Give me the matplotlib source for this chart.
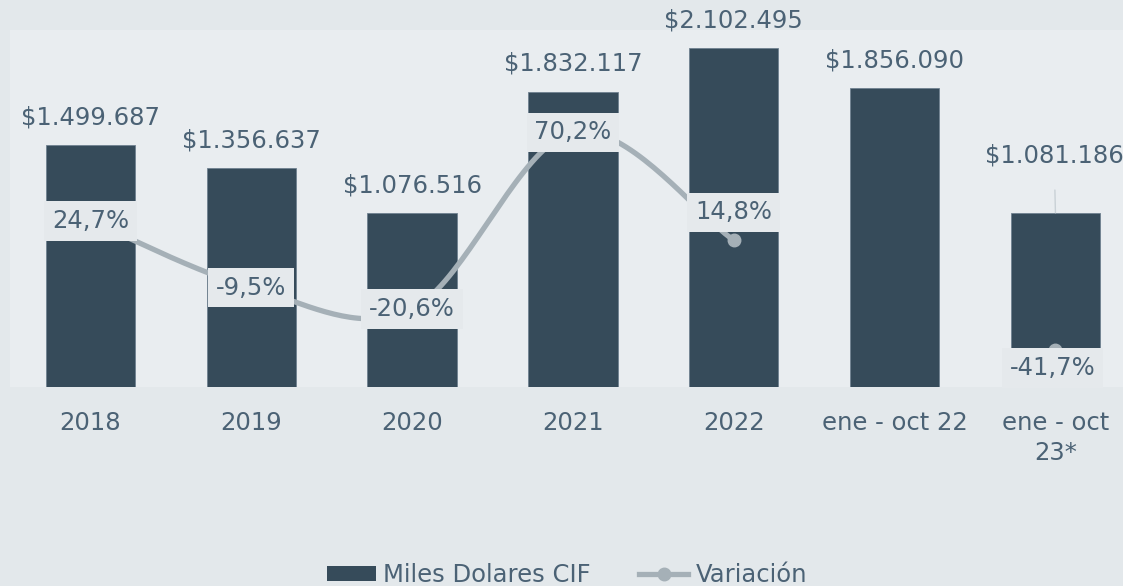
import numpy as np
import matplotlib
matplotlib.use("Agg")
import matplotlib.pyplot as plt
from matplotlib.lines import Line2D
from matplotlib.patches import Patch

categories = ["2018", "2019", "2020", "2021", "2022", "ene - oct 22", "ene - oct\n23*"]
values = [1499687, 1356637, 1076516, 1832117, 2102495, 1856090, 1081186]
value_labels = ["$1.499.687", "$1.356.637", "$1.076.516", "$1.832.117",
                "$2.102.495", "$1.856.090", "$1.081.186"]
variation = [24.7, -9.5, -20.6, 70.2, 14.8, None, -41.7]
variation_labels = ["24,7%", "-9,5%", "-20,6%", "70,2%", "14,8%", None, "-41,7%"]

BG = "#e3e8eb"
PLOT_BG = "#e9edf0"
BAR = "#364b5a"
LINE = "#a5b0b7"
TXT = "#4b6275"
FONT = "DejaVu Sans"
FS = 17.5

W, H = 1123, 586
fig = plt.figure(figsize=(W / 100, H / 100), dpi=100, facecolor=BG)
left, right, top, bottom = 10, 1123, 30, 387
ax = fig.add_axes([left / W, 1 - bottom / H, (right - left) / W, (bottom - top) / H])
ax.set_facecolor(PLOT_BG)
x = np.arange(len(categories))
ax.bar(x, values, width=0.555, color=BAR, edgecolor="#6f8190", linewidth=0.6, zorder=2)
ax.set_xlim(-0.5, 6.42)
ax.set_ylim(0, 2215000)
ax.set_yticks([])
ax.set_xticks(x)
ax.set_xticklabels(categories, fontsize=FS, color=TXT, family=FONT, linespacing=1.35)
ax.tick_params(axis="x", length=0, pad=17)
for s in ax.spines.values():
    s.set_visible(False)

for i, (v, lab) in enumerate(zip(values, value_labels)):
    if i == 6:
        ax.annotate(lab, (i, v), xytext=(-1, 41), textcoords="offset points",
                    ha="center", va="center", fontsize=FS, color=TXT, family=FONT,
                    arrowprops=dict(arrowstyle="-", color="#c9d1d6", lw=1.0,
                                    shrinkA=14, shrinkB=0), zorder=5)
    else:
        ax.annotate(lab, (i, v), xytext=(0, 20), textcoords="offset points",
                    ha="center", va="center", fontsize=FS, color=TXT, family=FONT, zorder=5)

ax2 = ax.twinx()
ax2.set_ylim(-60.6, 122.8)
ax2.set_yticks([])
ax2.patch.set_visible(False)
for s in ax2.spines.values():
    s.set_visible(False)

# smooth curve through the 2018-2022 segment (Catmull-Rom)
seg_x = [i for i in range(5)]
seg_y = [variation[i] for i in seg_x]
sx, sy = 160.8, 1.947
px = np.array(seg_x) * sx
py = np.array(seg_y) * sy
P = np.column_stack([px, py])
P = np.vstack([P[0] + (P[0] - P[1]) * 0.3, P, P[-1] + (P[-1] - P[-2]) * 0.3])
curve = []
for k in range(1, len(P) - 2):
    p0, p1, p2, p3 = P[k - 1], P[k], P[k + 1], P[k + 2]
    t = np.linspace(0, 1, 40)[:, None]
    c = 0.5 * ((2 * p1) + (-p0 + p2) * t + (2 * p0 - 5 * p1 + 4 * p2 - p3) * t ** 2
               + (-p0 + 3 * p1 - 3 * p2 + p3) * t ** 3)
    curve.append(c)
curve = np.vstack(curve)
ax2.plot(curve[:, 0] / sx, curve[:, 1] / sy, color=LINE, lw=3.8, solid_capstyle="round", zorder=3)
vx = [i for i, v in enumerate(variation) if v is not None]
vy = [variation[i] for i in vx]
ax2.plot(vx, vy, linestyle="none", marker="o", markersize=9, color=LINE, zorder=3)

offsets = [0, 0, 0, 0, 20, 0, -13]
for i, (v, lab) in enumerate(zip(variation, variation_labels)):
    if v is None:
        continue
    ax2.annotate(lab, (i, v), xytext=(-2 if i == 6 else 0, offsets[i]), textcoords="offset points",
                 ha="center", va="center", fontsize=FS, color=TXT, family=FONT, zorder=6,
                 bbox=dict(boxstyle="square,pad=0.32", fc="#e5e9ec", ec="none"))

handles = [Patch(facecolor=BAR, edgecolor="none", label="Miles Dolares CIF"),
           Line2D([0], [0], color=LINE, lw=3.8, marker="o", markersize=9, label="Variación")]
leg = fig.legend(handles=handles, loc="center", bbox_to_anchor=(0.505, 1 - 575 / H), ncol=2,
                 frameon=False, fontsize=FS, handlelength=2.0, handleheight=0.6,
                 columnspacing=2.0, handletextpad=0.3, borderaxespad=0)
for t in leg.get_texts():
    t.set_color(TXT)
    t.set_family(FONT)

fig.savefig("out.png", dpi=100, facecolor=BG)
